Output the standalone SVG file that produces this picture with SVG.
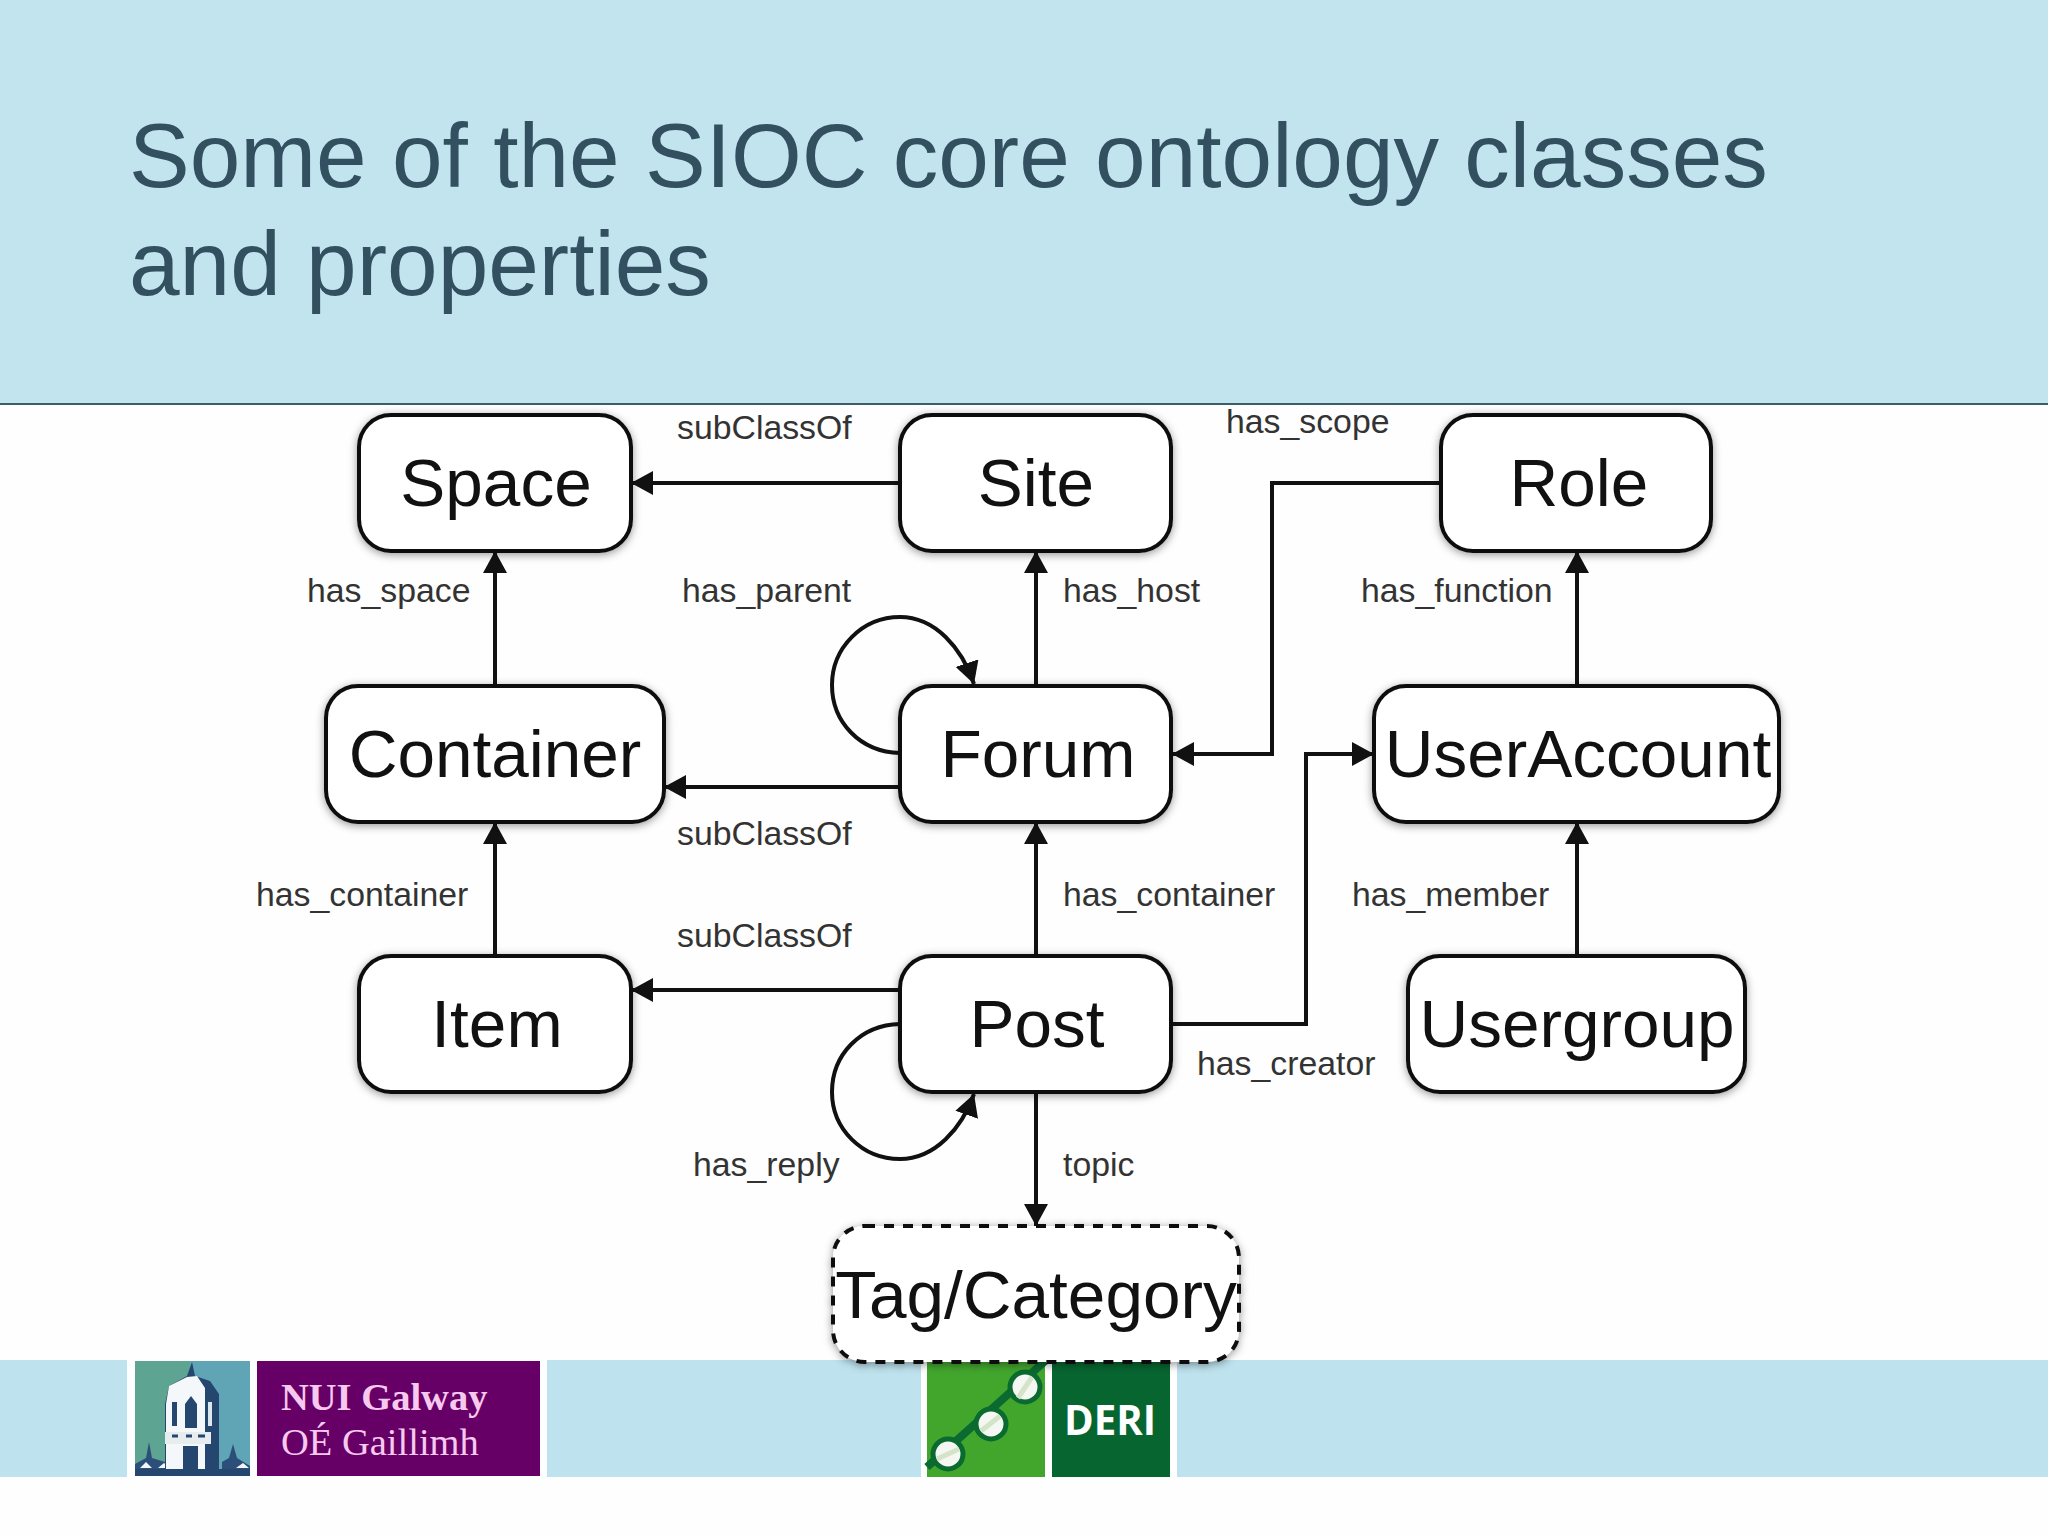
<svg xmlns="http://www.w3.org/2000/svg" width="2048" height="1536" viewBox="0 0 2048 1536">
<style>
.box{fill:#fff;stroke:#111;stroke-width:4}
.dash{stroke-dasharray:10 9}
.nl{font:67.5px "Liberation Sans",Arial,sans-serif;fill:#111;text-anchor:middle}
.el{font:33.8px "Liberation Sans",Arial,sans-serif;fill:#333}
.c{fill:none;stroke:#111;stroke-width:4}
.title{font:91px "Liberation Sans",Arial,sans-serif;fill:#32505f}
.logoS{font-family:"Liberation Serif","Times New Roman",serif;font-size:38.5px;fill:#f7c9ef}
</style>
<defs>
<filter id="sh" x="-10%" y="-15%" width="120%" height="130%"><feDropShadow dx="0" dy="2" stdDeviation="4" flood-color="#000" flood-opacity=".4"/></filter>
<marker id="a" markerUnits="userSpaceOnUse" markerWidth="24" markerHeight="24" refX="22" refY="12" orient="auto"><path d="M0 0L22 12L0 24z" fill="#111"/></marker>
</defs>
<rect width="2048" height="1536" fill="#fefefe"/>
<g id="header">
<rect width="2048" height="404" fill="#c1e4ef"/>
<rect y="403" width="2048" height="2" fill="#3f5d68"/>
<text class="title" x="129" y="187">Some of the SIOC core ontology classes</text>
<text class="title" x="129" y="295">and properties</text>
</g>
<g id="footer">
<rect y="1360" width="2048" height="117" fill="#bee3ee"/>
<rect x="127" y="1360" width="420" height="120" fill="#fcfeff"/>
<rect x="921" y="1360" width="256" height="120" fill="#fff"/>
</g>
<g id="logo-nui">
<rect x="135" y="1361" width="115" height="115" fill="#5fa5b5"/>
<path d="M135 1361H190V1470H135z" fill="#5da592"/>
<path d="M135 1476V1464L146 1458L149 1442L152 1458L165 1462V1476zM222 1476V1462L229 1458L233 1444L237 1458L250 1466V1476z" fill="#2c4f79"/>
<path d="M140 1468l6-6 6 6zM158 1468l6-5 6 5zM236 1468l7-5 6 5z" fill="#f2f6f8"/>
<path d="M165 1476V1404L169 1386L187 1376L192 1362L195 1376L210 1381L219 1394V1476z" fill="#25466f"/>
<path d="M166 1470V1404L169 1386L187 1377L197 1376L205 1388V1470L198 1472V1446H183V1472L176 1474z" fill="#f5f8fa"/>
<path d="M185 1428V1404L191 1396L197 1404V1428z" fill="#25466f"/>
<rect x="172" y="1402" width="5" height="24" fill="#25466f"/>
<rect x="208" y="1402" width="4" height="24" fill="#dde6ea"/>
<rect x="165" y="1432" width="46" height="12" fill="#e7edef"/>
<path d="M172 1436h6M186 1436h6M198 1436h7" stroke="#25466f" stroke-width="3"/>
<rect x="135" y="1469" width="115" height="7" fill="#25466f"/>
<rect x="257" y="1361" width="283" height="115" fill="#660066"/>
<text class="logoS" x="281" y="1410" font-weight="700">NUI Galway</text>
<text class="logoS" x="281" y="1455">OÉ Gaillimh</text>
</g>
<g id="logo-deri">
<rect x="927" y="1361" width="118" height="116" fill="#42a62d"/>
<path d="M927 1467L1045 1361" stroke="#0a6a30" stroke-width="8" fill="none"/>
<g fill="#f5f8f2" stroke="#0a6a30" stroke-width="5">
<circle cx="948" cy="1454" r="15"/><circle cx="991" cy="1424" r="15"/><circle cx="1025" cy="1387" r="15"/>
</g>
<g stroke="#d5e3c8" stroke-width="5" fill="none">
<path d="M937 1459L959 1449M981 1431L1000 1416M1018 1398L1032 1377"/>
</g>
<rect x="1052" y="1361" width="118" height="116" fill="#076530"/>
<text x="1110" y="1435" text-anchor="middle" font-family="'Open Sans','Noto Sans',sans-serif" font-weight="700" font-size="42" fill="#fff" textLength="92" lengthAdjust="spacingAndGlyphs">DERI</text>
</g>
<g id="connectors">
<path class="c" marker-end="url(#a)" d="M900 483H631"/>
<path class="c" marker-end="url(#a)" d="M1441 483H1272V754H1172"/>
<path class="c" marker-end="url(#a)" d="M495 685V551"/>
<path class="c" marker-end="url(#a)" d="M1036 685V551"/>
<path class="c" marker-end="url(#a)" d="M1577 685V551"/>
<path class="c" marker-end="url(#a)" d="M900 787H664"/>
<path class="c" marker-end="url(#a)" d="M900 753C860 752 832 722 832 685C832 648 862 617 900 617C935 617 962 648 974 684"/>
<path class="c" marker-end="url(#a)" d="M495 956V822"/>
<path class="c" marker-end="url(#a)" d="M1036 956V822"/>
<path class="c" marker-end="url(#a)" d="M1577 956V822"/>
<path class="c" marker-end="url(#a)" d="M900 990H631"/>
<path class="c" marker-end="url(#a)" d="M900 1024C860 1025 832 1055 832 1092C832 1129 862 1159 900 1159C935 1159 962 1128 974 1094"/>
<path class="c" marker-end="url(#a)" d="M1172 1024H1306V754H1374"/>
<path class="c" marker-end="url(#a)" d="M1036 1092V1226"/>
</g>
<g id="edge-labels">
<text class="el" x="677" y="439">subClassOf</text>
<text class="el" x="1226" y="433">has_scope</text>
<text class="el" x="307" y="602">has_space</text>
<text class="el" x="682" y="602">has_parent</text>
<text class="el" x="1063" y="602">has_host</text>
<text class="el" x="1361" y="602">has_function</text>
<text class="el" x="677" y="845">subClassOf</text>
<text class="el" x="256" y="906">has_container</text>
<text class="el" x="1063" y="906">has_container</text>
<text class="el" x="1352" y="906">has_member</text>
<text class="el" x="677" y="947">subClassOf</text>
<text class="el" x="1197" y="1075">has_creator</text>
<text class="el" x="693" y="1176">has_reply</text>
<text class="el" x="1063" y="1176">topic</text>
</g>
<g id="node-space"><rect class="box" filter="url(#sh)" x="359" y="415" width="272" height="136" rx="32"/><text class="nl" x="496" y="506">Space</text></g>
<g id="node-site"><rect class="box" filter="url(#sh)" x="900" y="415" width="271" height="136" rx="32"/><text class="nl" x="1036" y="506">Site</text></g>
<g id="node-role"><rect class="box" filter="url(#sh)" x="1441" y="415" width="270" height="136" rx="32"/><text class="nl" x="1579" y="506">Role</text></g>
<g id="node-container"><rect class="box" filter="url(#sh)" x="326" y="686" width="338" height="136" rx="32"/><text class="nl" x="495" y="777">Container</text></g>
<g id="node-forum"><rect class="box" filter="url(#sh)" x="900" y="686" width="271" height="136" rx="32"/><text class="nl" x="1038" y="777">Forum</text></g>
<g id="node-useraccount"><rect class="box" filter="url(#sh)" x="1374" y="686" width="405" height="136" rx="32"/><text class="nl" x="1578" y="777">UserAccount</text></g>
<g id="node-item"><rect class="box" filter="url(#sh)" x="359" y="956" width="272" height="136" rx="32"/><text class="nl" x="497" y="1047">Item</text></g>
<g id="node-post"><rect class="box" filter="url(#sh)" x="900" y="956" width="271" height="136" rx="32"/><text class="nl" x="1037" y="1047">Post</text></g>
<g id="node-usergroup"><rect class="box" filter="url(#sh)" x="1408" y="956" width="337" height="136" rx="32"/><text class="nl" x="1577" y="1047">Usergroup</text></g>
<g id="node-tag"><rect class="box dash" filter="url(#sh)" x="833" y="1226" width="406" height="136" rx="32"/><text class="nl" x="1036" y="1318">Tag/Category</text></g>
</svg>
